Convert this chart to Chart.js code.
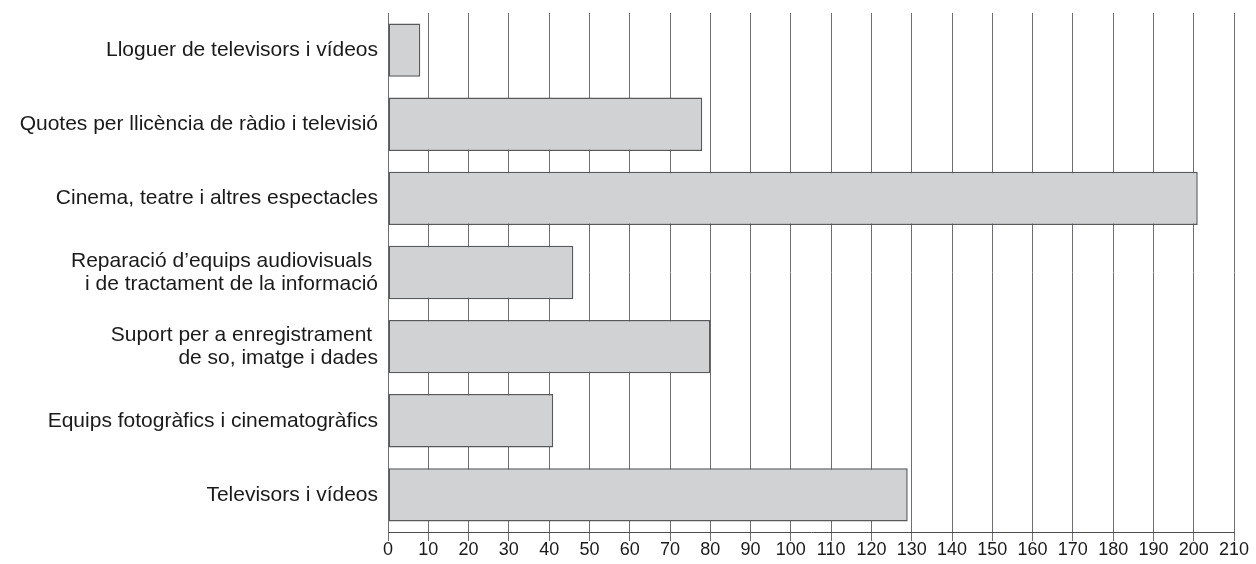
<!DOCTYPE html>
<html lang="ca">
<head>
  <meta charset="UTF-8">
  <title>Despesa en béns i serveis audiovisuals</title>
  <script src="https://cdn.jsdelivr.net/npm/chart.js"></script>
  <style>
    html, body { margin: 0; padding: 0; background: #fff; }
    #chart-container { position: relative; width: 1256px; height: 564px; }
  </style>
</head>
<body>
  <div id="chart-container">
    <canvas id="barChart"></canvas>
  </div>

  <script>
    // Categories (multi-line labels are arrays)
    const categories = [
      'Lloguer de televisors i vídeos',
      'Quotes per llicència de ràdio i televisió',
      'Cinema, teatre i altres espectacles',
      ['Reparació d\u2019equips audiovisuals ', 'i de tractament de la informació'],
      ['Suport per a enregistrament ', 'de so, imatge i dades'],
      'Equips fotogràfics i cinematogràfics',
      'Televisors i vídeos'
    ];

    // Values
    const values = [8, 78, 201, 46, 80, 41, 129];

    // X axis range
    const xMin = 0;
    const xMax = 210;
    const xStep = 10;

    const ctx = document.getElementById('barChart').getContext('2d');
    new Chart(ctx, {
      type: 'bar',
      data: {
        labels: categories,
        datasets: [{
          data: values,
          backgroundColor: '#d1d2d4',
          borderColor: '#58595b',
          borderWidth: 1.5,
          borderSkipped: false,
          barPercentage: 0.72,
          categoryPercentage: 1.0
        }]
      },
      options: {
        indexAxis: 'y',
        responsive: true,
        maintainAspectRatio: false,
        animation: false,
        layout: { padding: { top: 13, right: 22, left: 0, bottom: 0 } },
        plugins: {
          legend: { display: false },
          tooltip: { enabled: false }
        },
        scales: {
          x: {
            min: xMin,
            max: xMax,
            ticks: {
              stepSize: xStep,
              color: '#1a1a1a',
              font: { family: 'Liberation Sans, Arial, sans-serif', size: 18 },
              padding: -2,
              maxRotation: 0,
              autoSkip: false
            },
            grid: {
              color: '#6d6e71',
              lineWidth: 1,
              tickLength: 9,
              drawTicks: true
            },
            border: { display: true, color: '#4d4d4f', width: 1 },
            afterFit: scale => { scale.height = 32; }
          },
          y: {
            ticks: {
              color: '#1a1a1a',
              font: { family: 'Liberation Sans, Arial, sans-serif', size: 21, lineHeight: 1.1 },
              padding: 10,
              autoSkip: false
            },
            grid: { display: false, drawTicks: false },
            border: { display: true, color: '#6d6e71', width: 1 },
            afterFit: scale => {
              scale.width = 388;
              scale.paddingTop = 0;
              scale.paddingBottom = 0;
            }
          }
        }
      }
    });
  </script>
</body>
</html>
